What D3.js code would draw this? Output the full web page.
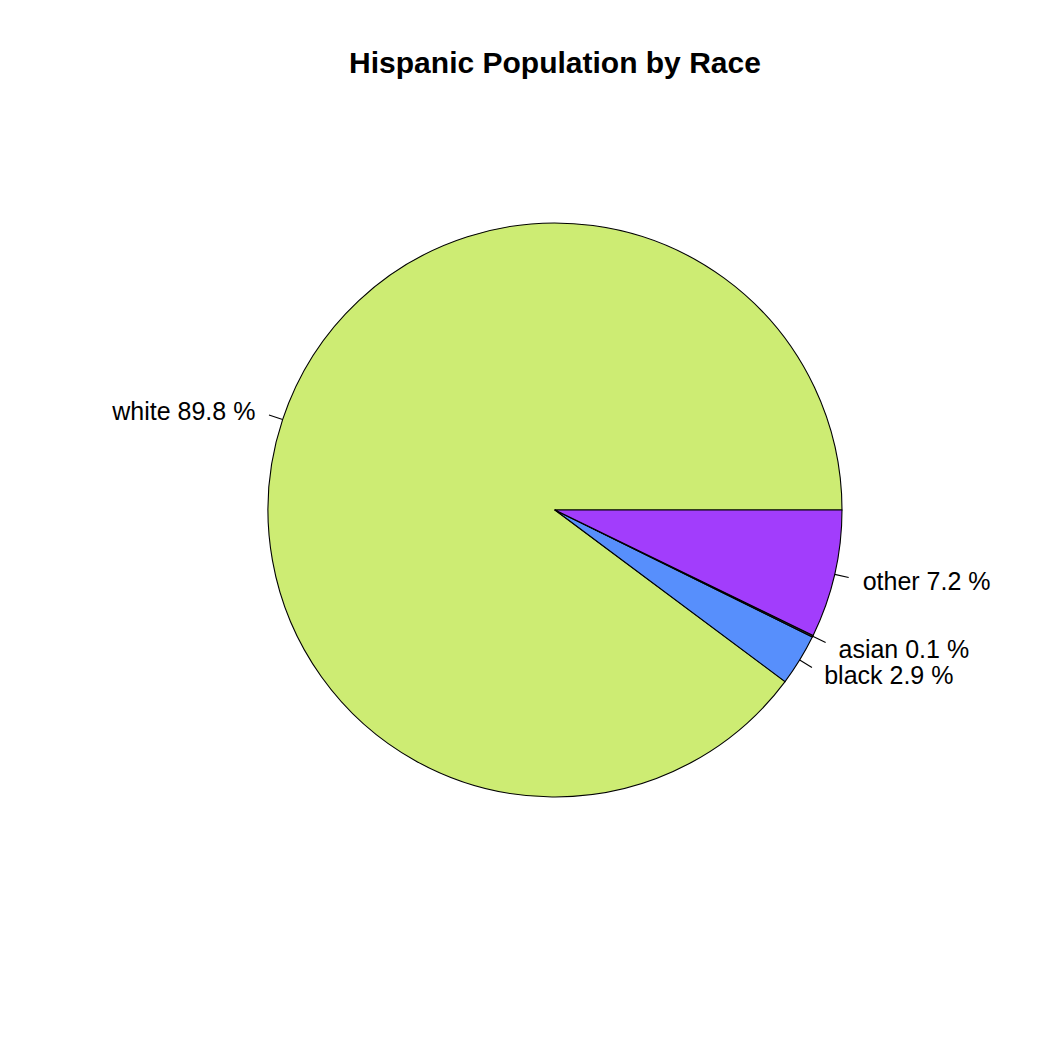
<!DOCTYPE html>
<html><head><meta charset="utf-8">
<script src="https://cdn.jsdelivr.net/npm/d3@7"></script>
<style>body{margin:0;background:#fff}</style>
</head><body>
<script>
const categories = ["white", "black", "asian", "other"];
const values = [89.8, 2.9, 0.1, 7.2];
const colors = ["#CDEC73", "#578FFC", "#3A3A3A", "#A23DFC"];
const title = "Hispanic Population by Race";

const W = 1050, H = 1050, cx = 555, cy = 510, r = 287;
const svg = d3.select("body").append("svg").attr("width", W).attr("height", H);
svg.append("rect").attr("width", W).attr("height", H).attr("fill", "#fff");

const data = categories.map((c, i) => ({cat: c, value: values[i], color: colors[i]}));
const pie = d3.pie().sort(null).value(d => d.value)
  .startAngle(Math.PI / 2).endAngle(Math.PI / 2 - 2 * Math.PI);
const arcs = pie(data);
const arc = d3.arc().innerRadius(0).outerRadius(r);
const g = svg.append("g").attr("transform", `translate(${cx},${cy})`);

g.selectAll("path.slice").data(arcs).join("path")
  .attr("class", "slice")
  .attr("d", arc)
  .attr("fill", d => d.data.color)
  .attr("stroke", "#000").attr("stroke-width", 1.1).attr("stroke-linejoin", "round");

const total = d3.sum(values);
arcs.forEach(a => {
  const mid = (a.startAngle + a.endAngle) / 2; // d3 angle (clockwise from 12 o'clock)
  const sx = Math.sin(mid), sy = -Math.cos(mid);
  g.append("line")
    .attr("x1", sx * r).attr("y1", sy * r)
    .attr("x2", sx * r * 1.05).attr("y2", sy * r * 1.05)
    .attr("stroke", "#000").attr("stroke-width", 1.1);
  g.append("text")
    .attr("x", sx * r * 1.1).attr("y", sy * r * 1.1)
    .attr("dy", "0.36em")
    .attr("text-anchor", sx >= 0 ? "start" : "end")
    .attr("font-family", "Liberation Sans, Arial, sans-serif")
    .attr("font-size", 25)
    .attr("fill", "#000")
    .text(`${a.data.cat} ${(a.data.value / total * 100).toFixed(1)} %`);
});

svg.append("text")
  .attr("x", cx).attr("y", 73)
  .attr("text-anchor", "middle")
  .attr("font-family", "Liberation Sans, Arial, sans-serif")
  .attr("font-weight", "bold")
  .attr("font-size", 30)
  .text(title);
</script>
</body></html>
